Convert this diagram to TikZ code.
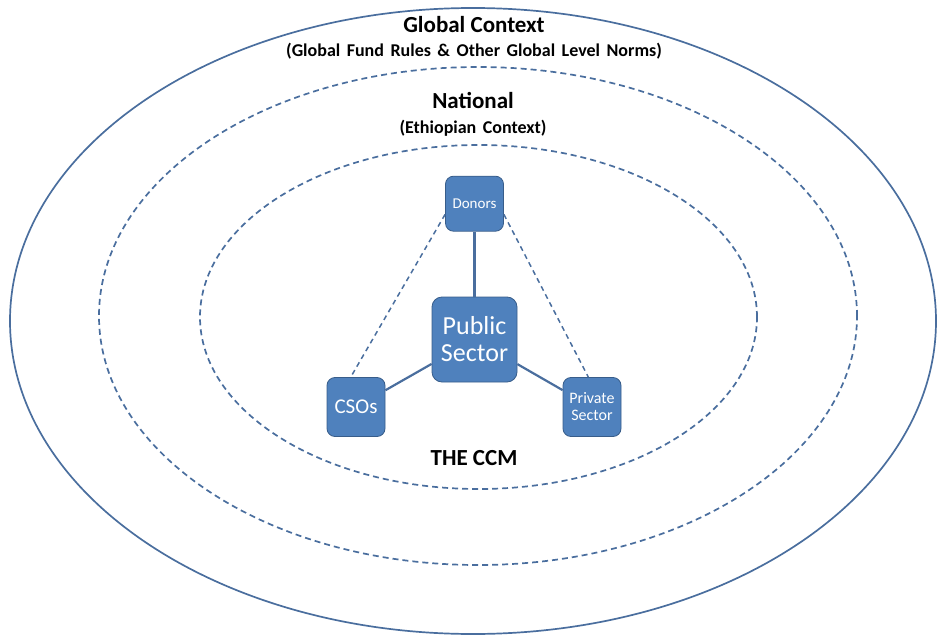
\documentclass[tikz,border=0pt]{standalone}
\usepackage{fontspec}
\setmainfont{Carlito}
\usetikzlibrary{positioning}
\definecolor{ccmblue}{HTML}{4F81BD}
\definecolor{ccmedge}{HTML}{385D8A}
\definecolor{ccmline}{HTML}{4A6E9E}
\newcommand{\normsfont}{\bfseries\fontsize{18}{20}\selectfont\spaceskip 0.36em\relax}

\begin{document}
\begin{tikzpicture}[x=1pt,y=-1pt,
    sector/.style={rectangle,rounded corners=8pt,draw=ccmedge,line width=0.8pt,fill=ccmblue,text=white,
        minimum width=58pt,minimum height=57pt,inner sep=1pt,align=center,font=\fontsize{15}{16}\selectfont},
    ring/.style={draw=ccmline,line width=1.7pt,dash pattern=on 6pt off 4pt},
    title/.style={font=\bfseries\fontsize{23}{26}\selectfont},
    subtitle/.style={font=\normsfont},
    link/.style={draw=ccmline,line width=2.2pt},
    looselink/.style={draw=ccmline,line width=1.5pt,dash pattern=on 5pt off 4pt}]
        \useasboundingbox (0,0) rectangle (938,637);

        \draw[ccmline,line width=1.7pt] (473,321) ellipse [x radius=463pt,y radius=313pt];
        \draw[ring] (478,316) ellipse [x radius=379pt,y radius=249pt];
        \draw[ring] (478.5,317) ellipse [x radius=278.5pt,y radius=172pt];

        \node[title] (global) at (474,25) {Global Context};
        \node[subtitle] (globalnorms) at (474,51) {(Global Fund Rules \& Other Global Level Norms)};
        \node[title] (national) at (473,100) {National};
        \node[subtitle] (ethiopia) at (473,128) {(Ethiopian Context)};

        \node[sector,minimum size=85pt,rounded corners=10pt,font=\fontsize{26}{27}\selectfont] (public) at (474.5,339.5) {Public\\Sector};
        \node[sector,minimum height=55pt] (donors) [above=65pt of public] {Donors};
        \node[sector,minimum height=59pt,font=\fontsize{21}{22}\selectfont] (csos) at (356,407) {CSOs};
        \node[sector,minimum height=59pt,font=\fontsize{16}{17}\selectfont] (private) at (592,407) {Private\\Sector};
        \node[title] (ccm) at (474,458) {THE CCM};

        \foreach \x in {donors,csos,private}{
            \draw[link] (public)--(\x);
        }
        \draw[looselink] (donors.200)--(csos.100);
        \draw[looselink] (donors.340)--(private.97);
    \end{tikzpicture}
\end{document}
